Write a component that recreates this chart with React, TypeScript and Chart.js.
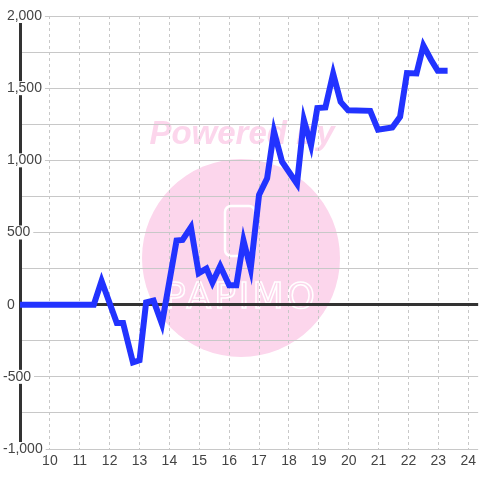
import { useEffect, useRef } from 'react';
import { Chart, registerables } from 'chart.js';

Chart.register(...registerables);

// Time of day (hours) and cumulative value
const hours = [
  9, 11.47, 11.73, 12.24, 12.45, 12.78, 13.0, 13.22, 13.47, 13.75,
  14.24, 14.44, 14.72, 14.98, 15.24, 15.44, 15.7, 16.0, 16.24, 16.48,
  16.72, 17.0, 17.27, 17.5, 17.77, 18.27, 18.5, 18.74, 18.95, 19.22,
  19.48, 19.73, 19.98, 20.72, 20.98, 21.46, 21.72, 21.95, 22.27, 22.5,
  22.76, 22.98, 23.31,
];
const values = [
  0, 0, 165, -127, -127, -400, -385, 15, 28, -133,
  444, 449, 537, 218, 250, 153, 268, 135, 135, 444,
  248, 760, 875, 1200, 990, 838, 1280, 1104, 1362, 1366,
  1600, 1405, 1347, 1343, 1212, 1228, 1302, 1605, 1602, 1795,
  1695, 1620, 1620,
];

const xMin = 9;
const xMax = 24.333;
const yMin = -1000;
const yMax = 2000;
const yGridStep = 250;
const yLabelStep = 500;
const watermarkText = 'Powered by';
const logoText = 'PAPIMO';

const watermark = {
  id: 'watermark',
  beforeDraw(chart: any) {
    const ctx = chart.ctx;
    ctx.save();
    ctx.fillStyle = '#fcd6ec';
    ctx.beginPath();
    ctx.arc(241, 258, 99, 0, Math.PI * 2);
    ctx.fill();
    ctx.font = 'italic bold 33px "Liberation Sans"';
    ctx.textAlign = 'center';
    ctx.textBaseline = 'alphabetic';
    ctx.fillText(watermarkText, 242, 144);
    ctx.strokeStyle = '#ffffff';
    ctx.lineWidth = 2.5;
    ctx.beginPath();
    (ctx as any).roundRect(225, 206, 30, 50, 6);
    ctx.stroke();
    ctx.lineWidth = 1.5;
    ctx.font = '36px "DejaVu Sans"';
    (ctx as any).letterSpacing = '3px';
    ctx.strokeText(logoText, 241, 308);
    ctx.restore();
  },
};

export default function App() {
  const ref = useRef<HTMLCanvasElement | null>(null);
  useEffect(() => {
    if (!ref.current) return;
    const chart = new Chart(ref.current, {
      type: 'line',
      data: {
        datasets: [
          {
            data: hours.map((h, i) => ({ x: h, y: values[i] })),
            borderColor: '#2233ff',
            borderWidth: 6,
            pointRadius: 0,
            tension: 0,
            fill: false,
          },
        ],
      },
      options: {
        animation: false,
        responsive: false,
        devicePixelRatio: 1,
        layout: { padding: { left: 3, top: 16, right: 0, bottom: 6.2 } },
        plugins: { legend: { display: false }, tooltip: { enabled: false } },
        scales: {
          x: {
            type: 'linear',
            min: xMin,
            max: xMax,
            grid: {
              color: (c: any) => (c.tick && c.tick.value === xMin ? 'rgba(0,0,0,0)' : '#c8c8c8'),
              lineWidth: 1,
              drawTicks: false,
            },
            border: { display: false, dash: [3, 3] },
            ticks: {
              stepSize: 1,
              includeBounds: false,
              autoSkip: false,
              padding: 4,
              color: '#444',
              font: { family: 'Liberation Sans', size: 14 },
              callback: (v: any) => (v === xMin ? '' : String(v)),
            },
          },
          y: {
            type: 'linear',
            min: yMin,
            max: yMax,
            afterFit: (scale: any) => {
              scale.width = 17;
            },
            grid: {
              color: (c: any) => (c.tick && c.tick.value === 0 ? '#333' : '#c8c8c8'),
              lineWidth: (c: any) => (c.tick && c.tick.value === 0 ? 3 : 1),
              drawTicks: false,
            },
            border: { display: true, color: '#333', width: 3 },
            ticks: {
              stepSize: yGridStep,
              autoSkip: false,
              mirror: true,
              crossAlign: 'near',
              padding: -17,
              color: '#444',
              font: { family: 'Liberation Sans', size: 14, lineHeight: 1 },
              showLabelBackdrop: (c: any) => !!c.tick && c.tick.value % yLabelStep === 0,
              backdropColor: '#ffffff',
              backdropPadding: { left: 2, right: 3, top: 0, bottom: 0 },
              callback: (v: any) => {
                const n = Number(v);
                if (n % yLabelStep !== 0) return '';
                const s = n.toLocaleString('en-US');
                return n < 0 ? s : ' ' + s;
              },
            },
          },
        },
      } as any,
      plugins: [watermark],
    });
    return () => chart.destroy();
  }, []);
  return (
    <div style={{ position: 'fixed', left: 0, top: 0, width: 480, height: 480, background: '#fff' }}>
      <canvas ref={ref} width={480} height={480} style={{ display: 'block' }} />
    </div>
  );
}
